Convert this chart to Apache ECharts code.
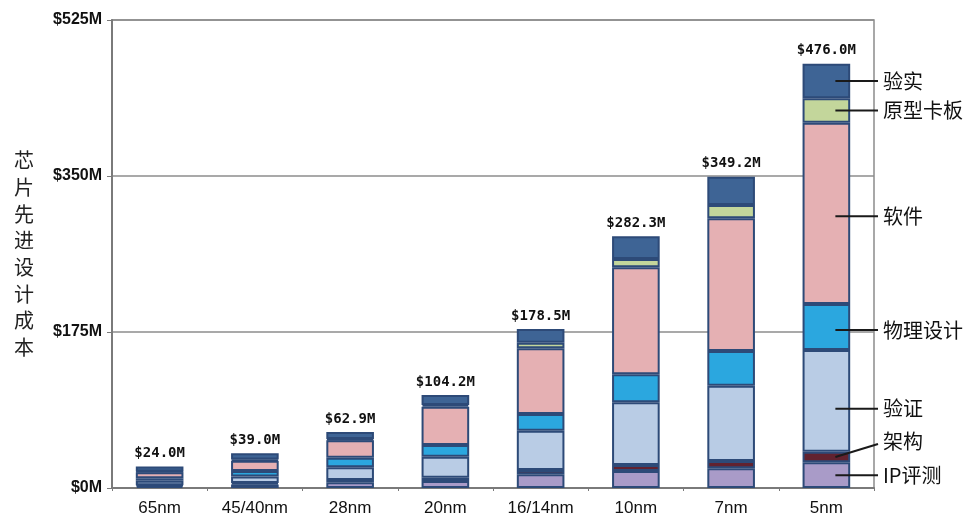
<!DOCTYPE html>
<html>
<head>
<meta charset="utf-8">
<style>
  html, body { margin: 0; padding: 0; background: #fff; }
  #chart { width: 970px; height: 522px; }
</style>
<script src="https://cdn.jsdelivr.net/npm/echarts@6/dist/echarts.min.js"></script>
</head>
<body>
<div id="chart"></div>
<script>
// Process nodes
const categories = ['65nm', '45/40nm', '28nm', '20nm', '16/14nm', '10nm', '7nm', '5nm'];

// Cost components per node, $M (stacked bottom to top)
const ipQualification = [2.2, 4.0, 6.4, 7.9, 15.3, 19.1, 22.1, 28.8];
const architecture    = [1.0, 1.5, 2.6, 3.7, 4.9, 6.7, 8.2, 12.0];
const verification    = [5.0, 7.5, 14.2, 23.5, 44.1, 70.3, 84.5, 114.0];
const physicalDesign  = [2.8, 6.0, 10.8, 13.1, 18.7, 31.4, 38.9, 51.6];
const software        = [6.8, 11.5, 19.6, 43.0, 73.7, 120.1, 148.8, 203.4];
const prototype       = [0.6, 1.5, 1.3, 2.0, 6.3, 9.3, 15.0, 27.4];
const validation      = [5.6, 7.0, 8.0, 11.0, 15.5, 25.4, 31.7, 38.8];

// Y axis ticks, $M
const yTicks = [0, 175, 350, 525];

const components = [
  { name: 'IP评测',   data: ipQualification, color: '#a99bc8' },
  { name: '架构',     data: architecture,    color: '#62222f' },
  { name: '验证',     data: verification,    color: '#b9cce5' },
  { name: '物理设计', data: physicalDesign,  color: '#2ba7df' },
  { name: '软件',     data: software,        color: '#e5b0b3' },
  { name: '原型卡板', data: prototype,       color: '#c3d69b' },
  { name: '验实',     data: validation,      color: '#3e6495' }
];

const totals = categories.map((_, i) =>
  components.reduce((s, c) => s + c.data[i], 0));

const chart = echarts.init(document.getElementById('chart'), null, { renderer: 'canvas' });

const series = components.map((c, idx) => ({
  name: c.name,
  type: 'bar',
  stack: 'cost',
  barWidth: '50%',
  data: c.data,
  itemStyle: { color: c.color, borderColor: '#2d4a78', borderWidth: 2 },
  label: idx === components.length - 1 ? {
    show: true,
    position: 'top',
    distance: 6,
    fontFamily: 'DejaVu Sans Mono',
    fontWeight: 'bold',
    fontSize: 14,
    color: '#111',
    formatter: p => '$' + totals[p.dataIndex].toFixed(1) + 'M'
  } : { show: false },
  emphasis: { disabled: true }
}));

chart.setOption({
  animation: false,
  backgroundColor: '#fff',
  grid: {
    left: 112, right: 96, top: 20, bottom: 34,
    show: true, borderColor: '#8c8c8c', borderWidth: 1.5
  },
  xAxis: {
    type: 'category',
    data: categories,
    axisLine: { lineStyle: { color: '#7a7a7a', width: 2 } },
    axisTick: { show: true, length: 3, lineStyle: { color: '#7a7a7a' } },
    axisLabel: {
      margin: 12, fontSize: 17, color: '#111',
      fontFamily: 'Liberation Sans, Arial, sans-serif'
    }
  },
  yAxis: {
    type: 'value',
    min: yTicks[0],
    max: yTicks[yTicks.length - 1],
    interval: yTicks[1] - yTicks[0],
    name: '芯片先进设计成本'.split('').join('\n'),
    nameLocation: 'middle',
    nameRotate: 0,
    nameGap: 78,
    nameTextStyle: {
      fontFamily: 'Noto Sans CJK SC', fontSize: 20, lineHeight: 26.7, color: '#222'
    },
    axisLine: { show: true, lineStyle: { color: '#7a7a7a', width: 2 } },
    axisTick: { show: true, length: 5, lineStyle: { color: '#7a7a7a' } },
    splitLine: { lineStyle: { color: '#8c8c8c', width: 1.5 } },
    axisLabel: {
      margin: 10, fontSize: 16, fontWeight: 'bold', color: '#111',
      fontFamily: 'Liberation Sans, Arial, sans-serif',
      formatter: v => '$' + v + 'M'
    }
  },
  series
});

// Callouts naming each component beside the last (5nm) bar
function drawCallouts() {
  const last = categories.length - 1;
  const lastCat = categories[last];
  const gridRect = chart.getModel().getComponent('grid').coordinateSystem.getRect();
  const lineEndX = gridRect.x + gridRect.width + 4;
  const textX = lineEndX + 5;
  // vertical nudges (px) where a callout sits away from its segment middle
  const shift = { '软件': 3, '物理设计': 3, '验证': 8, '架构': -13 };
  const slanted = { '架构': true };
  const elements = [];
  let base = 0;
  components.forEach(c => {
    const v = c.data[last];
    const mid = base + v / 2;
    base += v;
    const p = chart.convertToPixel({ gridIndex: 0 }, [lastCat, mid]);
    const startX = p[0] + 9;
    const yLabel = p[1] + (shift[c.name] || 0);
    const yStart = slanted[c.name] ? p[1] : yLabel;
    elements.push({
      type: 'line', silent: true, z: 10,
      shape: { x1: startX, y1: yStart, x2: lineEndX, y2: yLabel },
      style: { stroke: '#1a1a1a', lineWidth: 2 }
    });
    elements.push({
      type: 'text', silent: true, z: 10,
      x: textX, y: yLabel - (slanted[c.name] ? 3 : 0),
      style: {
        text: c.name, fill: '#111',
        font: '20px "Noto Sans CJK SC"',
        verticalAlign: 'middle', align: 'left'
      }
    });
  });
  chart.setOption({ graphic: elements });
}
drawCallouts();
</script>
</body>
</html>
